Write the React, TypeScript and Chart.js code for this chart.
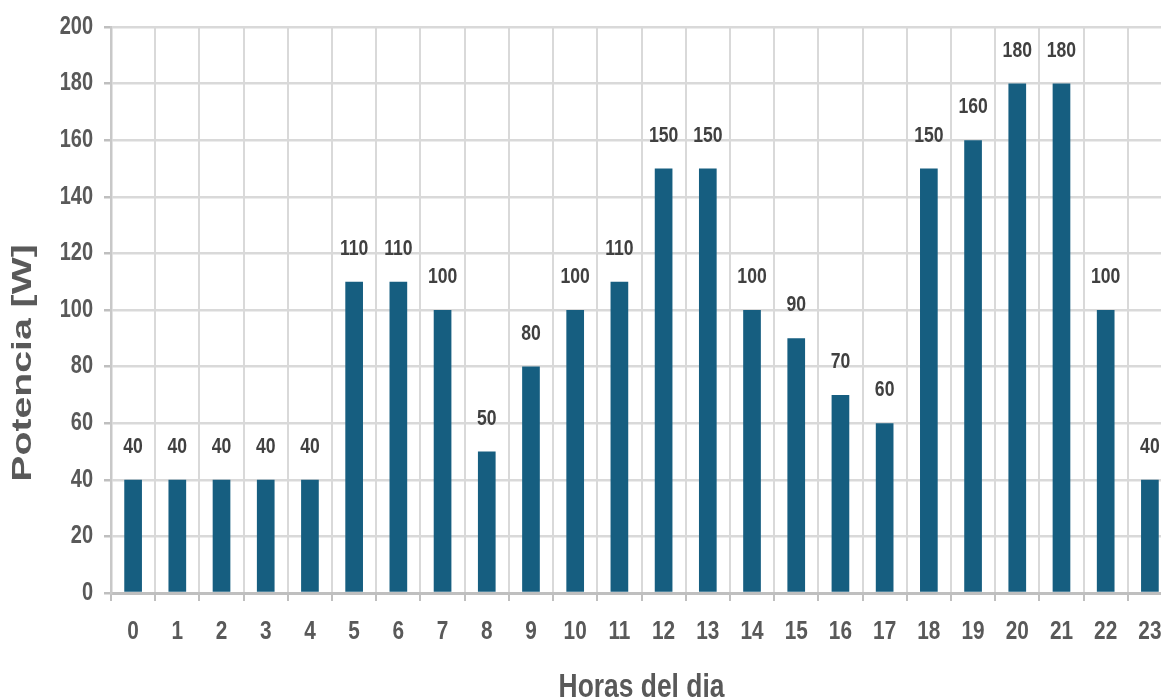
import React, { useEffect, useRef } from "react";
import { Chart, registerables } from "chart.js";

Chart.register(...registerables);

const hours: string[] = [
  "0", "1", "2", "3", "4", "5", "6", "7", "8", "9", "10", "11",
  "12", "13", "14", "15", "16", "17", "18", "19", "20", "21", "22", "23",
];
const power: number[] = [
  40, 40, 40, 40, 40, 110, 110, 100, 50, 80, 100, 110,
  150, 150, 100, 90, 70, 60, 150, 160, 180, 180, 100, 40,
];
const yTitle = "Potencia [W]";
const xTitle = "Horas del dia";

const FONT = "'Liberation Sans', Arial, sans-serif";
const SQUEEZE = 0.8;

// Draw all horizontal text condensed (narrow bold look of the reference)
const narrowText = {
  id: "narrowText",
  beforeInit(chart: any) {
    const ctx = chart.ctx;
    if (ctx.__origFillText) return;
    const origFill = ctx.fillText.bind(ctx);
    const origMeasure = ctx.measureText.bind(ctx);
    ctx.__origFillText = origFill;
    ctx.fillText = (text: string, x: number, y: number) => {
      ctx.save();
      ctx.translate(x, y);
      ctx.scale(SQUEEZE, 1);
      origFill(text, 0, 0);
      ctx.restore();
    };
    ctx.measureText = (text: string) => {
      const m = origMeasure(text);
      return {
        width: m.width * SQUEEZE,
        actualBoundingBoxAscent: m.actualBoundingBoxAscent,
        actualBoundingBoxDescent: m.actualBoundingBoxDescent,
        actualBoundingBoxLeft: m.actualBoundingBoxLeft * SQUEEZE,
        actualBoundingBoxRight: m.actualBoundingBoxRight * SQUEEZE,
      };
    };
  },
};

const dataLabels = {
  id: "dataLabels",
  afterDatasetsDraw(chart: any) {
    const ctx = chart.ctx;
    const meta = chart.getDatasetMeta(0);
    ctx.save();
    ctx.font = `bold 22px ${FONT}`;
    ctx.fillStyle = "#404040";
    ctx.textAlign = "center";
    ctx.textBaseline = "middle";
    meta.data.forEach((bar: any, i: number) => {
      ctx.fillText(String(power[i]), bar.x, bar.y - 33);
    });
    ctx.restore();
  },
};

const yTitlePlugin = {
  id: "yTitlePlugin",
  afterDraw(chart: any) {
    const ctx = chart.ctx;
    const area = chart.chartArea;
    const fill = ctx.__origFillText || ctx.fillText.bind(ctx);
    ctx.save();
    ctx.translate(23, (area.top + area.bottom) / 2 + 53);
    ctx.rotate(-Math.PI / 2);
    ctx.scale(1.4, 1);
    ctx.font = `bold 28px ${FONT}`;
    ctx.fillStyle = "#595959";
    ctx.textAlign = "center";
    ctx.textBaseline = "middle";
    fill(yTitle, 0, 0);
    ctx.restore();
  },
};

export default function App() {
  const ref = useRef<HTMLCanvasElement | null>(null);

  useEffect(() => {
    if (!ref.current) return;
    const chart = new Chart(ref.current, {
      type: "bar",
      data: {
        labels: hours,
        datasets: [
          {
            data: power,
            backgroundColor: "#165E80",
            borderWidth: 0,
            categoryPercentage: 1,
            barPercentage: 0.4,
          },
        ],
      },
      options: {
        animation: false,
        responsive: true,
        maintainAspectRatio: false,
        layout: { padding: { left: 0, right: 28, top: 27, bottom: 0 } },
        plugins: {
          legend: { display: false },
          tooltip: { enabled: false },
        },
        scales: {
          x: {
            grid: {
              display: true,
              offset: true,
              color: "#d9d9d9",
              lineWidth: 2,
              tickColor: "#bfbfbf",
              tickLength: 8,
              tickWidth: 2,
            },
            border: { display: true, color: "#bfbfbf", width: 3 },
            ticks: {
              color: "#595959",
              font: { family: FONT, size: 26, weight: "bold" },
              padding: 15,
              maxRotation: 0,
              autoSkip: false,
            },
            title: {
              display: true,
              text: xTitle,
              color: "#595959",
              font: { family: FONT, size: 33, weight: "bold" },
              padding: { top: 0, bottom: 2 },
            },
            afterFit(scale: any) {
              scale.height = 117;
            },
          },
          y: {
            min: 0,
            max: 200,
            ticks: {
              stepSize: 20,
              color: "#595959",
              font: { family: FONT, size: 25, weight: "bold" },
              padding: 11,
            },
            grid: {
              color: "#d9d9d9",
              lineWidth: 2.5,
              tickColor: "#bfbfbf",
              tickLength: 7,
              tickWidth: 2.5,
            },
            border: { display: true, color: "#c8c8c8", width: 2.5 },
            afterFit(scale: any) {
              scale.width = 111;
            },
          },
        },
      },
      plugins: [narrowText, dataLabels, yTitlePlugin],
    });
    return () => chart.destroy();
  }, []);

  return (
    <div
      style={{
        position: "fixed",
        left: 0,
        top: 0,
        width: 1161,
        height: 700,
        overflow: "hidden",
        background: "#ffffff",
      }}
    >
      <div style={{ position: "relative", width: 1200, height: 710 }}>
        <canvas ref={ref} />
      </div>
    </div>
  );
}
